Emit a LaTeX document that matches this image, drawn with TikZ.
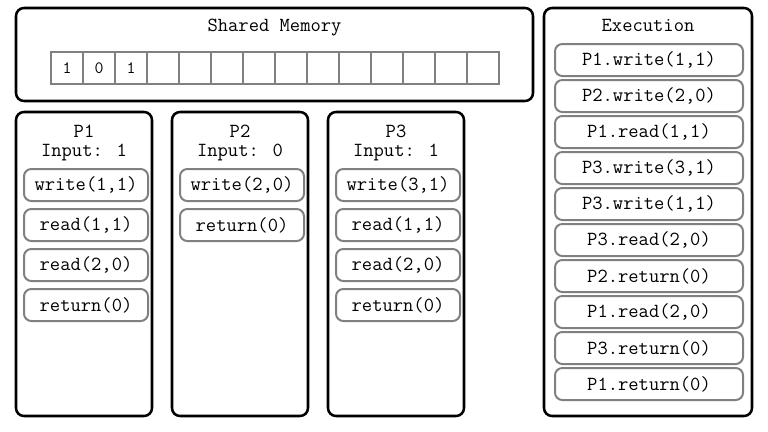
\documentclass[tikz,border=0pt]{standalone}
\usepackage{fontspec}
\definecolor{boxgray}{RGB}{128,128,128}
\tikzset{
  panel/.style={draw=black, line width=1.9pt, rounded corners=6pt, inner sep=0pt},
  opbox/.style={draw=boxgray, line width=1.5pt, rounded corners=5.5pt, minimum width=93pt, minimum height=24pt, inner sep=0pt, font=\ttfamily\fontsize{15}{17}\selectfont},
  execbox/.style={opbox, minimum width=141pt},
  cell/.style={draw=boxgray, line width=1.5pt, minimum size=24pt, inner sep=0pt, font=\ttfamily\fontsize{13}{15}\selectfont},
  titletext/.style={inner sep=0pt, anchor=base, font=\ttfamily\fontsize{15}{17}\selectfont}
}
\begin{document}
\begin{tikzpicture}[x=0.75pt, y=-0.75pt]
\useasboundingbox (0,0) rectangle (768,432);
% Shared memory
\node[panel, minimum width=387.75pt, minimum height=69.75pt] (mem) at (274.5,54.5) {};
\node[titletext] (memt) at (274.5,31.5) {Shared Memory};
\node[cell] (c1) at (67,68) {1};
\node[cell] (c2) at (99,68) {0};
\node[cell] (c3) at (131,68) {1};
\foreach \i in {4,...,14} \node[cell] (c\i) at ({67+32*(\i-1)},68) {};
% Processes
\node[panel, minimum width=102pt, minimum height=228pt] (p1) at (84,264) {};
\node[panel, minimum width=102pt, minimum height=228pt] (p2) at (240,264) {};
\node[panel, minimum width=102pt, minimum height=228pt] (p3) at (396,264) {};
\node[titletext] (p1t) at (84,137.5) {P1};
\node[titletext] (p1i) at (84,156.5) {Input: 1};
\node[titletext] (p2t) at (240,137.5) {P2};
\node[titletext] (p2i) at (240,156.5) {Input: 0};
\node[titletext] (p3t) at (396,137.5) {P3};
\node[titletext] (p3i) at (396,156.5) {Input: 1};
\foreach \t [count=\i] in {{write(1,1)},{read(1,1)},{read(2,0)},{return(0)}}
  \node[opbox] (pa\i) at (86,{185+40*(\i-1)}) {\t};
\foreach \t [count=\i] in {{write(2,0)},{return(0)}}
  \node[opbox] (pb\i) at (242,{185+40*(\i-1)}) {\t};
\foreach \t [count=\i] in {{write(3,1)},{read(1,1)},{read(2,0)},{return(0)}}
  \node[opbox] (pc\i) at (398,{185+40*(\i-1)}) {\t};
% Execution
\node[panel, minimum width=156pt, minimum height=306pt] (ex) at (648,212) {};
\node[titletext] (ext) at (648,31.5) {Execution};
\foreach \t [count=\i] in {{P1.write(1,1)},{P2.write(2,0)},{P1.read(1,1)},{P3.write(3,1)},{P3.write(1,1)},{P3.read(2,0)},{P2.return(0)},{P1.read(2,0)},{P3.return(0)},{P1.return(0)}}
  \node[execbox] (e\i) at (649,{60+36*(\i-1)}) {\t};
\end{tikzpicture}
\end{document}
